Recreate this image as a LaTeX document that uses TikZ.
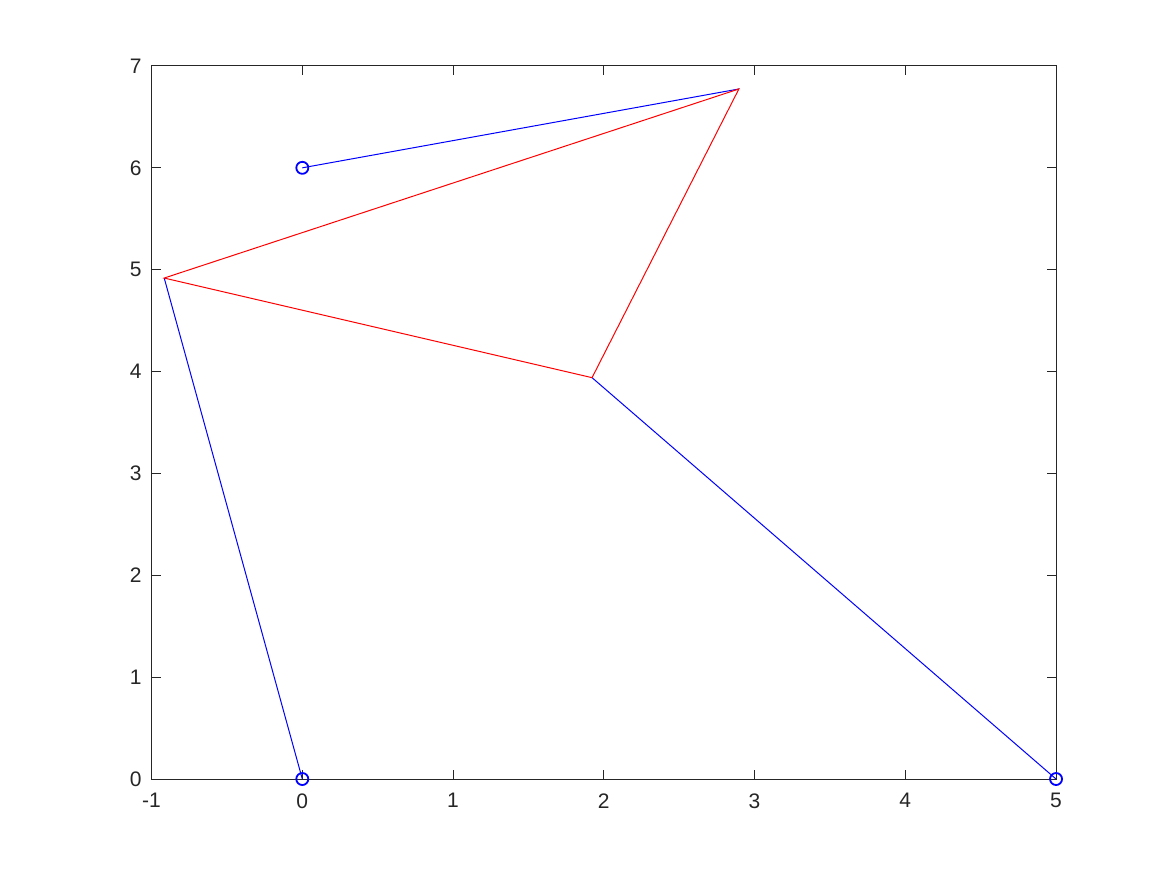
\documentclass[tikz,border=0pt]{standalone}
\usepackage{fontspec}
\setmainfont{Liberation Sans}
\usetikzlibrary{positioning}
\definecolor{axisgray}{rgb}{0.15,0.15,0.15}

\begin{document}
\begin{tikzpicture}[x=75.37pt, y=50.93pt,
    ticklabel/.style={font=\fontsize{10.5}{12}\selectfont, text=axisgray, inner sep=0pt},
    bluelink/.style={blue, line width=0.5pt},
    redlink/.style={red, line width=0.5pt},
    joint/.style={circle, draw=blue, line width=0.9pt, minimum size=6pt, inner sep=0pt}]
    \useasboundingbox (-2.0054,-0.9425) rectangle (5.736,7.6477);

    % Axes box and ticks
    \draw[axisgray, line width=0.5pt] (-1,0) rectangle (5,7);
    \foreach \x in {-1,0,1,2,3,4,5} {
        \draw[axisgray, line width=0.5pt] (\x,0) -- ++(0,4.5pt);
        \draw[axisgray, line width=0.5pt] (\x,7) -- ++(0,-4.5pt);
        \node[ticklabel, anchor=north] at ([yshift=-7pt]\x,0) {\x};
    }
    \foreach \y in {0,1,2,3,4,5,6,7} {
        \draw[axisgray, line width=0.5pt] (-1,\y) -- ++(4.5pt,0);
        \draw[axisgray, line width=0.5pt] (5,\y) -- ++(-4.5pt,0);
        \node[ticklabel, anchor=east] at ([xshift=-4.8pt]-1,\y) {\y};
    }

    % Linkage points
    \coordinate (base1) at (0,0);
    \coordinate (base2) at (5,0);
    \coordinate (tip) at (0,6);
    \coordinate (pA) at (-0.916,4.918);
    \coordinate (pB) at (2.896,6.774);
    \coordinate (pC) at (1.922,3.940);

    % Blue links
    \draw[bluelink] (base1) -- (pA);
    \draw[bluelink] (tip) -- (pB);
    \draw[bluelink] (pC) -- (base2);

    % Red triangle
    \draw[redlink] (pA) -- (pB) -- (pC) -- cycle;

    % Markers
    \node[joint] (m1) at (base1) {};
    \node[joint] (m2) at (base2) {};
    \node[joint] (m3) at (tip) {};
\end{tikzpicture}
\end{document}
